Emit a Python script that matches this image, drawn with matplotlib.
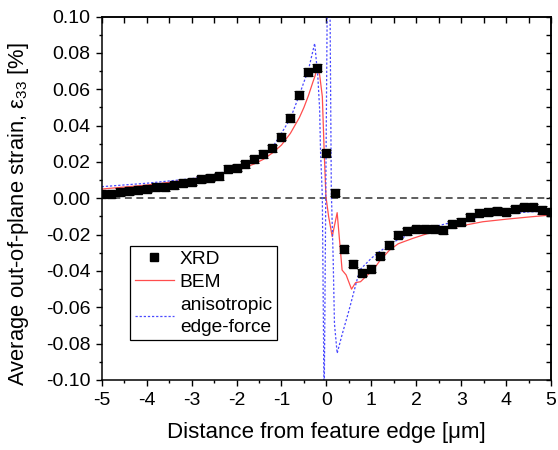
import matplotlib
matplotlib.use("Agg")
import matplotlib.pyplot as plt
from matplotlib.lines import Line2D

plt.rcParams['font.family'] = ['Liberation Sans', 'DejaVu Sans']
plt.rcParams['mathtext.fontset'] = 'custom'
plt.rcParams['mathtext.rm'] = 'Liberation Sans'
plt.rcParams['mathtext.it'] = 'Liberation Sans:italic'
plt.rcParams['axes.unicode_minus'] = False

# ---- data ----
xrd_x = [-5.0, -4.8, -4.6, -4.4, -4.2, -4.0, -3.8, -3.6, -3.4, -3.2, -3.0,
         -2.8, -2.6, -2.4, -2.2, -2.0, -1.8, -1.6, -1.4, -1.2, -1.0,
         -0.8, -0.6, -0.4, -0.2, 0.0, 0.2, 0.4, 0.6, 0.8, 1.0,
         1.2, 1.4, 1.6, 1.8, 2.0, 2.2, 2.4, 2.6, 2.8, 3.0,
         3.2, 3.4, 3.6, 3.8, 4.0, 4.2, 4.4, 4.6, 4.8, 5.0]
xrd_y = [0.0022, 0.0022, 0.0035, 0.0040, 0.0047, 0.0053, 0.0064, 0.0060, 0.0071, 0.0086, 0.0092,
         0.0104, 0.0114, 0.0121, 0.0163, 0.0169, 0.0187, 0.0215, 0.0244, 0.0275, 0.0339,
         0.0442, 0.0569, 0.0695, 0.0719, 0.0248, 0.0030, -0.0281, -0.0360, -0.0410, -0.0388,
         -0.0316, -0.0257, -0.0200, -0.0182, -0.0171, -0.0170, -0.0167, -0.0174, -0.0143, -0.0129,
         -0.0105, -0.0079, -0.0077, -0.0070, -0.0074, -0.0060, -0.0050, -0.0050, -0.0064, -0.0074]
xrd_err = [0.0020] * len(xrd_x)

bem_x = [-5.0, -4.5, -4.0, -3.5, -3.0, -2.5, -2.0, -1.8, -1.6, -1.4, -1.2, -1.0,
         -0.8, -0.6, -0.5, -0.4, -0.3, -0.25, -0.21, -0.15, -0.09, -0.05, -0.01,
         0.05, 0.13, 0.24, 0.35, 0.44, 0.56, 0.65, 0.76, 0.89, 1.04, 1.2, 1.41,
         1.6, 1.93, 2.3, 2.74, 3.1, 3.48, 4.0, 4.5, 5.0]
bem_y = [0.0051, 0.0062, 0.0073, 0.0088, 0.0106, 0.0125, 0.0153, 0.0171, 0.0190, 0.0215, 0.0250, 0.0293,
         0.0358, 0.0445, 0.0500, 0.0565, 0.0640, 0.0675, 0.0720, 0.0680, 0.0560, 0.0266, 0.0010,
         -0.0100, -0.0211, -0.0079, -0.0395, -0.0422, -0.0500, -0.0464, -0.0459, -0.0428, -0.0395, -0.0340, -0.0284,
         -0.0250, -0.0220, -0.0190, -0.0165, -0.0147, -0.0129, -0.0115, -0.0103, -0.0092]

ani_x = [-5.0, -4.0, -3.0, -2.5, -2.0, -1.6, -1.4, -1.2, -1.0, -0.8, -0.6, -0.5,
         -0.4, -0.33, -0.26, -0.19, -0.15, -0.13, -0.09, -0.05, 0.02, 0.05, 0.08,
         0.11, 0.15, 0.18, 0.24, 0.35, 0.5, 0.74, 1.0, 1.18, 1.5, 2.0, 2.5, 3.0,
         3.5, 4.0, 4.5, 5.0]
ani_y = [0.0064, 0.0083, 0.0108, 0.0130, 0.0165, 0.0205, 0.0235, 0.0280, 0.0358, 0.0440, 0.0570, 0.0640,
         0.0706, 0.0780, 0.0853, 0.0670, 0.0490, 0.0260, 0.0010, -0.1150, 0.1100, 0.1300, 0.1100,
         0.0040, -0.0320, -0.0690, -0.0853, -0.0750, -0.0620, -0.0395, -0.0330, -0.0294, -0.0240, -0.0180, -0.0150, -0.0120,
         -0.0100, -0.0085, -0.0075, -0.0070]

x_ticks = [-5, -4, -3, -2, -1, 0, 1, 2, 3, 4, 5]
x_minor = [-4.5, -3.5, -2.5, -1.5, -0.5, 0.5, 1.5, 2.5, 3.5, 4.5]
y_ticks = [-0.10, -0.08, -0.06, -0.04, -0.02, 0.00, 0.02, 0.04, 0.06, 0.08, 0.10]
y_minor = [-0.09, -0.07, -0.05, -0.03, -0.01, 0.01, 0.03, 0.05, 0.07, 0.09]

# ---- figure ----
fig = plt.figure(figsize=(5.58, 4.5), dpi=100)
ax = fig.add_axes([0.1823, 0.1556, 0.8052, 0.8074])

ax.axhline(0, color='#333333', lw=1.1, ls=(0, (4.5, 3)), zorder=1)

ax.plot(bem_x, bem_y, color='#ff4d4d', lw=0.9, zorder=2)
ax.plot(ani_x, ani_y, color='#4a4aff', lw=0.9, ls=(0, (1.8, 1.5)), zorder=2)
ax.errorbar(xrd_x, xrd_y, yerr=xrd_err, fmt='s', color='black', ms=5.4,
            ecolor='#222222', elinewidth=0.7, capsize=3.8, capthick=0.7,
            zorder=3)

ax.set_xlim(-5, 5)
ax.set_ylim(-0.10, 0.10)
ax.set_xticks(x_ticks)
ax.set_xticklabels([str(v) for v in x_ticks])
ax.set_yticks(y_ticks)
ax.set_yticklabels(['%.2f' % v for v in y_ticks])
ax.set_xticks(x_minor, minor=True)
ax.set_yticks(y_minor, minor=True)

ax.tick_params(which='major', direction='out', length=4, width=1.0, labelsize=14)
ax.tick_params(which='minor', direction='out', length=2.5, width=1.0)
ax.tick_params(axis='x', which='major', pad=5)
ax.tick_params(axis='y', which='major', pad=4)

for s in ax.spines.values():
    s.set_linewidth(1.1)

top = ax.secondary_xaxis('top')
top.set_xticks(x_ticks)
top.set_xticks(x_minor, minor=True)
top.tick_params(which='major', direction='in', length=4.5, width=1.0, labeltop=False)
top.tick_params(which='minor', direction='in', length=4.5, width=1.0)
right = ax.secondary_yaxis('right')
right.set_yticks(y_ticks)
right.set_yticks(y_minor, minor=True)
right.tick_params(which='major', direction='in', length=3.5, width=1.0, labelright=False)
right.tick_params(which='minor', direction='in', length=3.5, width=1.0)
for sec in (top, right):
    for s in sec.spines.values():
        s.set_linewidth(1.1)

ax.set_xlabel('Distance from feature edge [μm]', fontsize=16, labelpad=9)
ax.set_ylabel('Average out-of-plane strain, ε$_{33}$ [%]', fontsize=15.8)
ax.yaxis.set_label_coords(-0.158, 0.455)

h_xrd = Line2D([], [], ls='none', marker='s', color='black', ms=5.5)
h_bem = Line2D([], [], color='#ff4d4d', lw=0.9)
h_ani = Line2D([], [], color='#4a4aff', lw=0.9, ls=(0, (1.8, 1.5)))
leg = ax.legend([h_xrd, h_bem, h_ani], ['XRD', 'BEM', 'anisotropic\nedge-force'],
                loc='upper left', bbox_to_anchor=(0.063, 0.37), borderaxespad=0,
                fontsize=13.8, frameon=True, fancybox=False, edgecolor='black',
                handlelength=2.05, handletextpad=0.3, labelspacing=0.3,
                borderpad=0.25, framealpha=1)
leg.get_frame().set_linewidth(0.9)
leg.get_texts()[2].set_linespacing(1.38)

fig.savefig('out.png', dpi=100)
